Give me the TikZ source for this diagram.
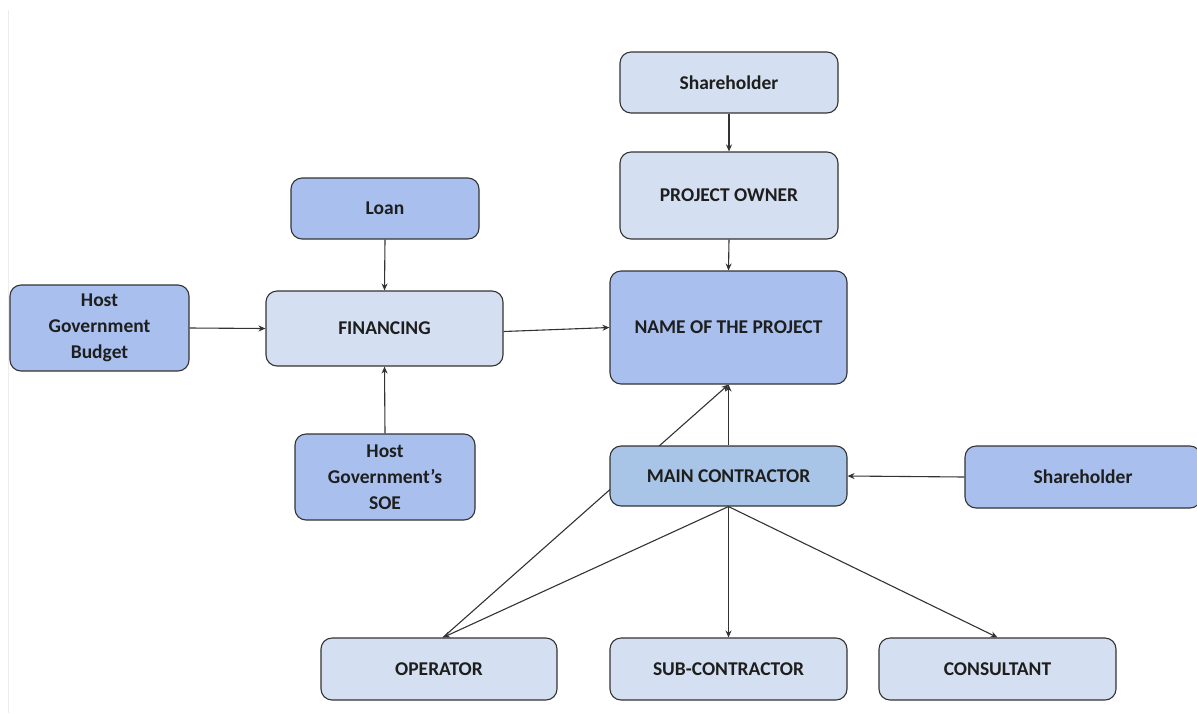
\documentclass[tikz,border=0pt]{standalone}
\usepackage{fontspec}
\setmainfont{Carlito}
\usetikzlibrary{arrows.meta,backgrounds}
\definecolor{lightfill}{HTML}{D4E0F1}
\definecolor{darkfill}{HTML}{A9C0EE}
\definecolor{midfill}{HTML}{A8C4E6}
\definecolor{edgecol}{HTML}{333333}
\definecolor{txtcol}{HTML}{1E1E1E}
\tikzset{
  box/.style={draw=edgecol, line width=1.1pt, rounded corners=11pt, align=center,
    inner sep=0pt, font=\bfseries\fontsize{19.5}{26}\selectfont, text=txtcol},
  lbox/.style={box, fill=lightfill},
  dbox/.style={box, fill=darkfill},
  mbox/.style={box, fill=midfill},
  conn/.style={draw=edgecol, line width=1.1pt, -{Stealth[length=7pt,width=6pt]}},
}
\begin{document}
\begin{tikzpicture}[x=1pt,y=-1pt]
\useasboundingbox (0,0) rectangle (1197,713);
\draw[color=black!7, line width=1pt] (8,10) -- (8,713);
\node[lbox, minimum width=218pt, minimum height=61pt] (sh1) at (729,82.5) {Shareholder};
\node[lbox, minimum width=218pt, minimum height=87pt] (po) at (729,195.5) {PROJECT OWNER};
\node[dbox, minimum width=188pt, minimum height=61pt] (loan) at (385,208.5) {Loan};
\node[dbox, minimum width=179pt, minimum height=86pt] (hgb) at (99.5,328) {Host\\Government\\Budget};
\node[lbox, minimum width=237pt, minimum height=75pt] (fin) at (384.5,328.5) {FINANCING};
\node[dbox, minimum width=237pt, minimum height=113pt] (proj) at (728.5,327.5) {NAME OF THE PROJECT};
\node[dbox, minimum width=180pt, minimum height=86pt] (soe) at (385,477) {Host\\Government’s\\SOE};
\node[mbox, minimum width=237pt, minimum height=60pt] (mc) at (728.5,476) {MAIN CONTRACTOR};
\node[dbox, minimum width=236pt, minimum height=62pt] (sh2) at (1083,477) {Shareholder};
\node[lbox, minimum width=236pt, minimum height=62pt] (op) at (439,669) {OPERATOR};
\node[lbox, minimum width=237pt, minimum height=62pt] (sub) at (728.5,669) {SUB-CONTRACTOR};
\node[lbox, minimum width=237pt, minimum height=62pt] (cons) at (997.5,669) {CONSULTANT};
\begin{scope}[on background layer]
\draw[conn] ([xshift=4pt]op.north) -- (proj.south);
\end{scope}
\draw[conn] (sh1.south) -- (po.north);
\draw[conn] (po.south) -- (proj.north);
\draw[conn] (loan.south) -- (fin.north);
\draw[conn] (hgb.east) -- (fin.west);
\draw[conn] (soe.north) -- (fin.south);
\draw[conn] ([yshift=-3pt]fin.east) -- (proj.west);
\draw[conn] (mc.north) -- (proj.south);
\draw[conn] (sh2.west) -- (mc.east);
\draw[conn] (mc.south) -- (sub.north);
\draw[conn] (mc.south) -- (cons.north);
\draw[conn] (mc.south) -- ([xshift=4pt]op.north);
\end{tikzpicture}
\end{document}
